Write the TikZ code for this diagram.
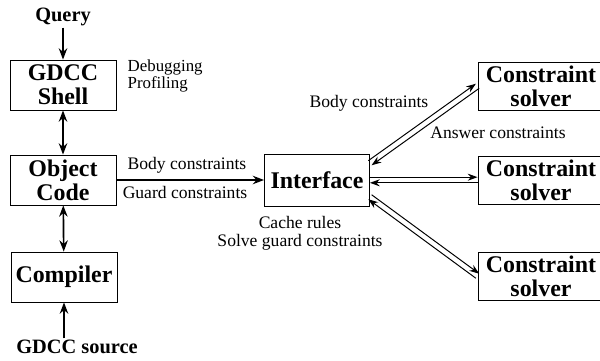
\documentclass[tikz,border=0pt]{standalone}
\usepackage{fontspec}
\setmainfont{Liberation Serif}
\usetikzlibrary{calc, positioning, arrows.meta}

\begin{document}
\begin{tikzpicture}[
    x=0.025cm, y=-0.025cm,
    module/.style={
        rectangle,
        draw=black,
        semithick,
        fill=white,
        minimum width=2.65cm,
        minimum height=1.25cm,
        font=\fontsize{17}{17}\selectfont\bfseries,
        align=center,
        inner sep=1pt
    },
    solverbox/.style={
        module,
        minimum width=3.15cm,
        minimum height=1.2cm
    },
    note/.style={
        font=\fontsize{12.5}{13}\selectfont,
        align=center,
        inner sep=1pt
    },
    ioterm/.style={
        font=\fontsize{14.5}{15}\selectfont\bfseries,
        inner sep=1pt
    },
    arrow/.style={
        -{Stealth[length=8pt, width=6pt]},
        line width=1.2pt
    },
    biarrow/.style={
        {Stealth[length=8pt, width=6pt]}-{Stealth[length=8pt, width=6pt]},
        line width=1.2pt
    },
    link/.style={
        -{Stealth[length=7pt, width=5pt]},
        line width=0.7pt
    }
]

\useasboundingbox (0,0) rectangle (600,361);
\clip (0,0) rectangle (600,361);

% left column
\node[ioterm] (query) at (63, 17) {Query};
\node[module] (shell) at (63, 85) {GDCC\\Shell};
\node[module] (obj) at (63, 180) {Object\\Code};
\node[module] (comp) at (64, 277) {Compiler};
\node[ioterm] (src) at (77, 347) {GDCC source};

\draw[arrow] (query) -- (shell);
\draw[biarrow] (shell) -- (obj);
\draw[biarrow] (obj) -- (comp);
\draw[arrow] (comp.south |- src.north) -- (comp);

\node[note, anchor=north west, align=left, font=\fontsize{12}{11}\selectfont] (dbg) at (126, 58) {Debugging\\Profiling};

% interface
\node[module, minimum width=2.625cm, minimum height=1.3cm] (iface) at (317, 180) {Interface};
\draw[arrow] (obj) -- (iface);
\node[note] (body) at (187, 165) {Body constraints};
\node[note] (guard) at (185, 192) {Guard constraints};
\node[note] (cache) at (300, 233) {Cache rules\\Solve guard constraints};

% solvers
\foreach \k/\yy in {1/86, 2/180, 3/276} {
    \node[solverbox] (s\k) at (541, \yy) {Constraint\\solver};
}
\coordinate (i1) at ($(iface.east)+(0,-17)$);
\coordinate (i2) at (iface.east);
\coordinate (i3) at ($(iface.east)+(0,17)$);

\foreach \k in {1,2,3} {
    \draw[link] ($(i\k)!2pt!90:(s\k.west)$) -- ($(s\k.west)!2pt!-90:(i\k)$);
    \draw[link] ($(s\k.west)!2pt!90:(i\k)$) -- ($(i\k)!2pt!-90:(s\k.west)$);
}
\node[note] (bodyout) at (369, 103) {Body constraints};
\node[note] (answer) at (498, 133) {Answer constraints};

\end{tikzpicture}
\end{document}
